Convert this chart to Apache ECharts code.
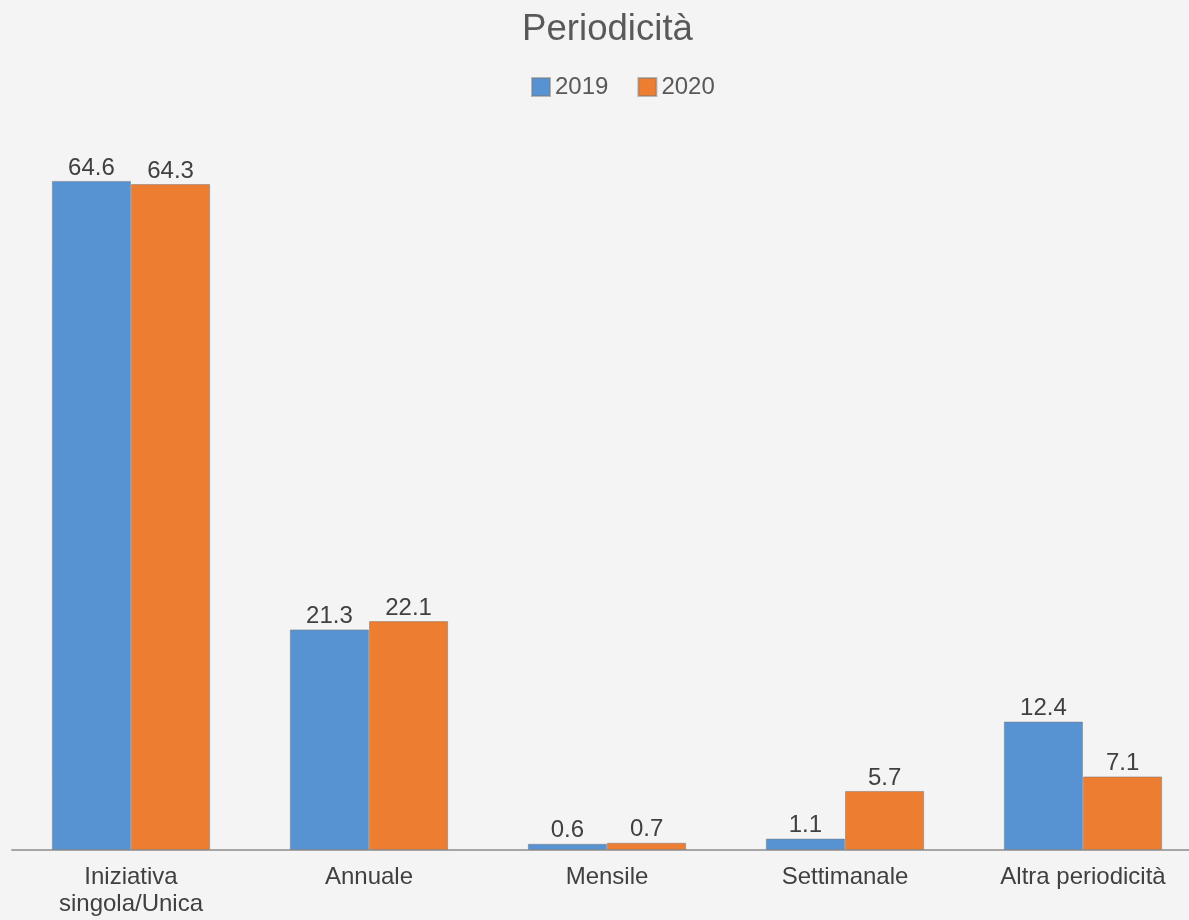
<!DOCTYPE html>
<html><head><meta charset="utf-8">
<script src="https://cdn.jsdelivr.net/npm/echarts@6/dist/echarts.min.js"></script>
<style>html,body{margin:0;padding:0;background:#f4f4f4;overflow:hidden;}#c{width:1215px;height:920px;}</style>
</head><body><div id="c"></div>
<script>
const categories = ['Iniziativa\nsingola/Unica', 'Annuale', 'Mensile', 'Settimanale', 'Altra periodicità'];
const values2019 = [64.6, 21.3, 0.6, 1.1, 12.4];
const values2020 = [64.3, 22.1, 0.7, 5.7, 7.1];
const seriesNames = ['2019', '2020'];

const FF = 'Liberation Sans, Arial, sans-serif';
const chart = echarts.init(document.getElementById('c'));
const lbl = {show:true, position:'top', color:'#404040', fontSize:24, fontFamily:FF, distance:1};
chart.setOption({
  backgroundColor:'#f4f4f4',
  animation:false,
  title:{text:'Periodicità', left:'center', top:6, textStyle:{fontSize:36.6, fontWeight:'normal', color:'#595959', fontFamily:FF}},
  legend:{top:70, left:526, itemWidth:18, itemHeight:18, itemGap:29, icon:'rect',
    textStyle:{fontSize:24, color:'#595959', fontFamily:FF}},
  grid:{left:12, top:125, width:1190, height:725, containLabel:false},
  xAxis:{type:'category', data:categories,
    axisLine:{lineStyle:{color:'#a6a6a6', width:2}}, axisTick:{show:false},
    axisLabel:{color:'#404040', fontSize:24, lineHeight:27, margin:14, fontFamily:FF, interval:0}},
  yAxis:{type:'value', min:0, max:70, show:false, splitLine:{show:false}},
  series:[
    {name:seriesNames[0], type:'bar', data:values2019, barGap:'0%', barCategoryGap:'33.5%',
      itemStyle:{color:'#5793d3', borderColor:'rgba(120,120,120,0.5)', borderWidth:1}, label:lbl},
    {name:seriesNames[1], type:'bar', data:values2020,
      itemStyle:{color:'#ed7d31', borderColor:'rgba(120,120,120,0.5)', borderWidth:1}, label:lbl}
  ]
});
</script></body></html>
